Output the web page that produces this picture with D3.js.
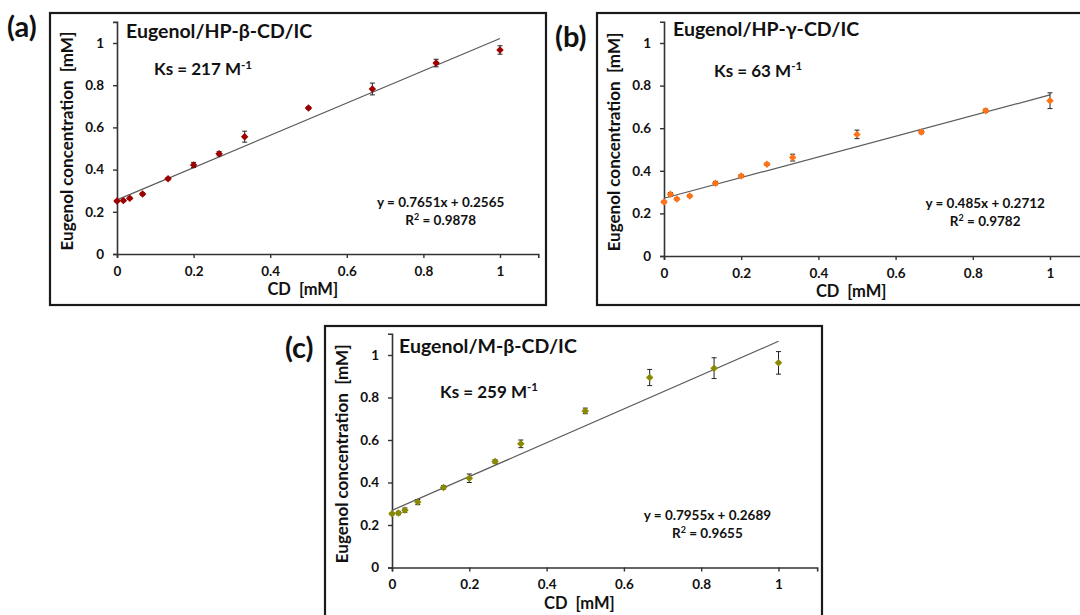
<!DOCTYPE html>
<html><head><meta charset="utf-8">
<script src="https://cdn.jsdelivr.net/npm/d3@7"></script>
<style>
html,body{margin:0;padding:0;background:#fff;}
svg{display:block;font-family:Lato,"Open Sans",sans-serif;font-weight:bold;}
</style></head>
<body>
<svg id="chart" width="1080" height="615"></svg>
<script>
// ---- data ----
const cd = [0, 0.0167, 0.0333, 0.0667, 0.1333, 0.2, 0.2667, 0.3333, 0.5, 0.6667, 0.8333, 1.0];
const eugA = [0.251, 0.253, 0.264, 0.284, 0.357, 0.422, 0.475, 0.556, 0.692, 0.782, 0.905, 0.967];
const errA = [0.005, 0.005, 0.005, 0.006, 0.006, 0.012, 0.010, 0.026, 0.006, 0.028, 0.018, 0.020];
const eugB = [0.254, 0.290, 0.268, 0.282, 0.342, 0.376, 0.431, 0.462, 0.571, 0.582, 0.682, 0.729];
const errB = [0.005, 0.008, 0.005, 0.005, 0.008, 0.006, 0.005, 0.016, 0.020, 0.008, 0.008, 0.037];
const eugC = [0.253, 0.256, 0.270, 0.308, 0.377, 0.420, 0.499, 0.582, 0.737, 0.894, 0.938, 0.963];
const errC = [0.005, 0.008, 0.010, 0.012, 0.008, 0.020, 0.008, 0.018, 0.013, 0.038, 0.049, 0.053];
const panelLetters = ["(a)", "(b)", "(c)"];
const panelTitles = ["Eugenol/HP-β-CD/IC", "Eugenol/HP-γ-CD/IC", "Eugenol/M-β-CD/IC"];
const ksValues = ["217", "63", "259"];
const fitSlope = [0.7651, 0.485, 0.7955];
const fitIntercept = [0.2565, 0.2712, 0.2689];
const eqLabels = ["y = 0.7651x + 0.2565", "y = 0.485x + 0.2712", "y = 0.7955x + 0.2689"];
const r2Labels = ["0.9878", "0.9782", "0.9655"];
const xTicks = [0, 0.2, 0.4, 0.6, 0.8, 1];
const yTicks = [0, 0.2, 0.4, 0.6, 0.8, 1];
const xTitle = "CD\u00a0 [mM]";
const yTitle = "Eugenol concentration\u00a0 [mM]";

// ---- layout / style ----
const colors = ["#9e0000", "#ff7216", "#8a8a00"];
const layout = [
  {fx: 50, fy: 13, fw: 496, fh: 292, ax: 117, ax1: 500, ay0: 254, ay1: 43, lx: 7, ly: 37,
   tx: 9, ty: 1.025, kx: 37, ky: 0.848, ex: 0.845},
  {fx: 597, fy: 13, fw: 500, fh: 292, ax: 664, ax1: 1050, ay0: 256, ay1: 43, lx: 555, ly: 47,
   tx: 9, ty: 1.035, kx: 50, ky: 0.842, ex: 0.832},
  {fx: 325, fy: 326, fw: 497, fh: 300, ax: 392, ax1: 778.5, ay0: 567.5, ay1: 355, lx: 285, ly: 358,
   tx: 7, ty: 1.01, kx: 48, ky: 0.80, ex: 0.816}
];
const series = [
  {y: eugA, e: errA},
  {y: eugB, e: errB},
  {y: eugC, e: errC}
];

const svg = d3.select("#chart");

series.forEach((s, i) => {
  const L = layout[i];
  const g = svg.append("g");
  const x = d3.scaleLinear().domain([0, 1]).range([L.ax, L.ax1]);
  const y = d3.scaleLinear().domain([0, 1]).range([L.ay0, L.ay1]);
  const xMax = 1.1, yMax = 1.1;

  // frame
  g.append("rect").attr("x", L.fx).attr("y", L.fy).attr("width", L.fw).attr("height", L.fh)
    .attr("fill", "none").attr("stroke", "#1a1a1a").attr("stroke-width", 2.2);

  // panel letter
  svg.append("text").attr("x", L.lx).attr("y", L.ly).attr("font-size", 29).attr("fill", "#111")
    .text(panelLetters[i]);

  // axes
  const xAxis = d3.axisBottom(x.copy().domain([0, xMax]).range([L.ax, x(xMax)]))
    .tickValues(xTicks).tickSize(4).tickPadding(8).tickFormat(d => String(d));
  const yAxis = d3.axisLeft(y.copy().domain([0, yMax]).range([L.ay0, y(yMax)]))
    .tickValues(yTicks).tickSize(4).tickPadding(9).tickFormat(d => String(d));
  const gx = g.append("g").attr("transform", `translate(0,${L.ay0})`).call(xAxis);
  const gy = g.append("g").attr("transform", `translate(${L.ax},0)`).call(yAxis);
  [gx, gy].forEach(a => {
    a.select(".domain").attr("stroke", "#333").attr("stroke-width", 1.6);
    a.selectAll(".tick line").attr("stroke", "#333").attr("stroke-width", 1.4);
    a.selectAll(".tick text").attr("font-size", 13.5).attr("font-family", "Lato").attr("font-weight", "bold").attr("fill", "#111");
  });

  // axis titles
  g.append("text").attr("x", x(0.485)).attr("y", L.ay0 + 41).attr("text-anchor", "middle")
    .attr("font-size", 16.5).attr("fill", "#111").text(xTitle);
  g.append("text").attr("transform", `translate(${L.ax - 44},${y(0.535)}) rotate(-90)`)
    .attr("text-anchor", "middle").attr("font-size", 17).attr("fill", "#111").text(yTitle);

  // titles
  g.append("text").attr("x", L.ax + L.tx).attr("y", y(L.ty)).attr("font-size", 19.5).attr("fill", "#111")
    .text(panelTitles[i]);
  const ks = g.append("text").attr("x", L.ax + L.kx).attr("y", y(L.ky)).attr("font-size", 17).attr("fill", "#111");
  ks.append("tspan").text("Ks = " + ksValues[i] + " M");
  ks.append("tspan").attr("font-size", 11.5).attr("dy", -6.5).text("-1");

  // regression line
  const fit = [0, 1].map(v => ({x: v, y: fitIntercept[i] + fitSlope[i] * v}));
  g.append("path").datum(fit)
    .attr("d", d3.line().x(d => x(d.x)).y(d => y(d.y)))
    .attr("stroke", "#5a5a5a").attr("stroke-width", 1.2).attr("fill", "none");

  // equation
  const eqX = x(L.ex);
  g.append("text").attr("x", eqX).attr("y", y(0.225)).attr("text-anchor", "middle")
    .attr("font-size", 13.5).attr("fill", "#111").text(eqLabels[i]);
  const r2 = g.append("text").attr("x", eqX).attr("y", y(0.139)).attr("text-anchor", "middle")
    .attr("font-size", 13.5).attr("fill", "#111");
  r2.append("tspan").text("R");
  r2.append("tspan").attr("font-size", 9).attr("dy", -5).text("2");
  r2.append("tspan").attr("dy", 5).text(" = " + r2Labels[i]);

  // points
  const pts = cd.map((c, k) => ({x: c, y: s.y[k], e: s.e[k]}));
  const eb = g.append("g").attr("stroke", "#222").attr("stroke-width", 1);
  pts.forEach(p => {
    eb.append("line").attr("x1", x(p.x)).attr("x2", x(p.x)).attr("y1", y(p.y - p.e)).attr("y2", y(p.y + p.e));
    eb.append("line").attr("x1", x(p.x) - 2.5).attr("x2", x(p.x) + 2.5).attr("y1", y(p.y - p.e)).attr("y2", y(p.y - p.e));
    eb.append("line").attr("x1", x(p.x) - 2.5).attr("x2", x(p.x) + 2.5).attr("y1", y(p.y + p.e)).attr("y2", y(p.y + p.e));
  });
  g.append("g").selectAll("path").data(pts).join("path")
    .attr("d", d3.symbol(d3.symbolSquare, 28)())
    .attr("transform", d => `translate(${x(d.x)},${y(d.y)}) rotate(45)`)
    .attr("fill", colors[i]);
});
</script>
</body></html>
